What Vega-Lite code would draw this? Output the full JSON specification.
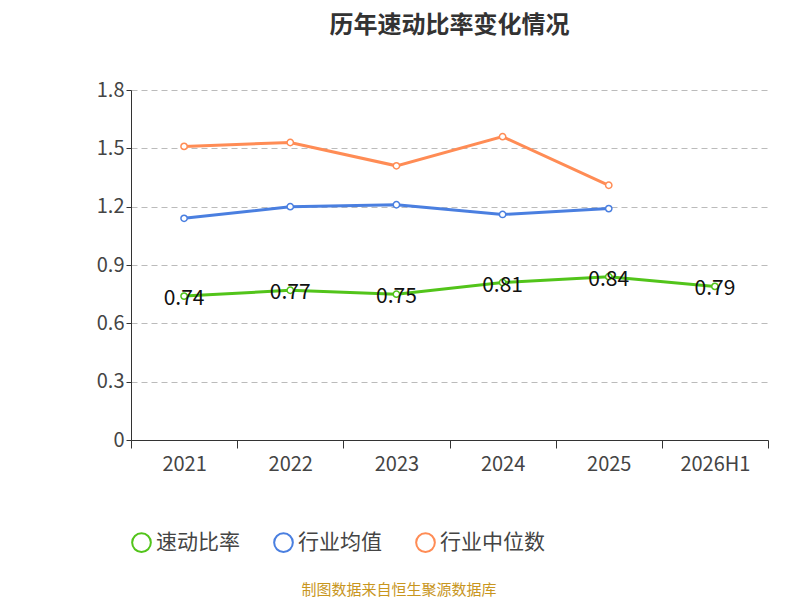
{
  "$schema": "https://vega.github.io/schema/vega-lite/v6.json",
  "width": 637,
  "height": 350,
  "autosize": "none",
  "padding": {"left": 131, "top": 90, "right": 32, "bottom": 160},
  "background": "white",
  "title": {"text": "历年速动比率变化情况", "fontSize": 24, "font": "Noto Sans CJK SC", "fontWeight": "bold", "color": "#333", "offset": 42, "anchor": "middle"},
  "config": {"font": "Noto Sans CJK SC", "view": {"stroke": null}},
  "data": {"values": [
    {"year": "2021", "s": "速动比率", "v": 0.74},
    {"year": "2022", "s": "速动比率", "v": 0.77},
    {"year": "2023", "s": "速动比率", "v": 0.75},
    {"year": "2024", "s": "速动比率", "v": 0.81},
    {"year": "2025", "s": "速动比率", "v": 0.84},
    {"year": "2026H1", "s": "速动比率", "v": 0.79},
    {"year": "2021", "s": "行业均值", "v": 1.14},
    {"year": "2022", "s": "行业均值", "v": 1.20},
    {"year": "2023", "s": "行业均值", "v": 1.21},
    {"year": "2024", "s": "行业均值", "v": 1.16},
    {"year": "2025", "s": "行业均值", "v": 1.19},
    {"year": "2021", "s": "行业中位数", "v": 1.51},
    {"year": "2022", "s": "行业中位数", "v": 1.53},
    {"year": "2023", "s": "行业中位数", "v": 1.41},
    {"year": "2024", "s": "行业中位数", "v": 1.56},
    {"year": "2025", "s": "行业中位数", "v": 1.31}
  ]},
  "encoding": {
    "x": {"field": "year", "type": "ordinal", "sort": null,
      "axis": {"title": null, "labelAngle": 0, "labelFontSize": 20, "labelColor": "#444", "domainColor": "#333", "tickColor": "#333", "tickBand": "extent", "tickSize": 8, "labelPadding": 6}},
    "y": {"field": "v", "type": "quantitative", "scale": {"domain": [0, 1.8]},
      "axis": {"title": null, "values": [0, 0.3, 0.6, 0.9, 1.2, 1.5, 1.8], "labelFontSize": 20, "labelColor": "#444", "domainColor": "#333", "tickColor": "#333", "gridDash": [6, 4], "gridColor": "#bbb", "labelExpr": "datum.value == 0 ? '0' : format(datum.value, '.1f')"}},
    "color": {"field": "s", "type": "nominal", "sort": ["速动比率", "行业均值", "行业中位数"],
      "scale": {"domain": ["速动比率", "行业均值", "行业中位数"], "range": ["#52c41a", "#4a7fe0", "#ff8c55"]},
      "legend": {"orient": "bottom", "direction": "horizontal", "title": null, "offset": 58, "labelFontSize": 21, "labelColor": "#444", "symbolType": "circle", "symbolSize": 350, "symbolFillColor": "white", "symbolStrokeWidth": 2, "columnPadding": 30}}
  },
  "layer": [
    {"mark": {"type": "line", "strokeWidth": 3, "point": {"filled": false, "fill": "white", "size": 40, "strokeWidth": 1.5, "opacity": 1}}},
    {"transform": [{"filter": "datum.s == '速动比率'"}],
      "mark": {"type": "text", "fontSize": 21, "color": "#111", "dy": 3},
      "encoding": {"text": {"field": "v", "format": ".2f"}, "color": {"value": "#111"}}},
    {"data": {"values": [{"t": "制图数据来自恒生聚源数据库"}]},
      "mark": {"type": "text", "fontSize": 15, "color": "#c8961e"},
      "encoding": {"text": {"field": "t"}, "x": {"value": 268}, "y": {"value": 500}, "color": {"value": "#c8961e"}}}
  ]
}
